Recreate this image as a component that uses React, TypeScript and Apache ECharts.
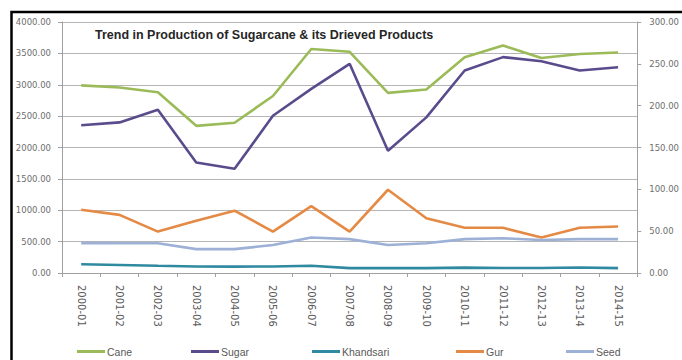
import React, { useEffect, useRef } from "react";
import * as echarts from "echarts";

const categories = [
  "2000-01", "2001-02", "2002-03", "2003-04", "2004-05", "2005-06", "2006-07", "2007-08",
  "2008-09", "2009-10", "2010-11", "2011-12", "2012-13", "2013-14", "2014-15",
];
const leftTicks = [0, 500, 1000, 1500, 2000, 2500, 3000, 3500, 4000];
const rightTicks = [0, 50, 100, 150, 200, 250, 300];

// Cane on left axis
const cane = [2990, 2955, 2880, 2345, 2395, 2820, 3570, 3525, 2870, 2925, 3440, 3625, 3425, 3490, 3515];
// Others on right axis
const sugar = [176.5, 180, 195, 132, 124.5, 188, 220, 250, 146, 186, 242, 258, 253, 242, 246];
const khandsari = [10.4, 9.6, 8.6, 7.8, 7.6, 7.8, 8.6, 5.8, 5.8, 5.8, 6.4, 6.0, 6.0, 6.6, 5.8];
const gur = [75.5, 69.5, 49.5, 62.5, 74.5, 49.5, 80, 49.5, 99.5, 65.5, 54, 54, 42.5, 54, 55.5];
const seed = [35.7, 35.5, 35.5, 28.5, 28.5, 33.5, 42.5, 40.5, 33.5, 35.5, 40.5, 41.5, 39.5, 40.5, 40.5];

const seriesNames = ["Cane", "Sugar", "Khandsari", "Gur", "Seed"];
const seriesColors = ["#9BBB59", "#5A4C8C", "#2F89A0", "#E58A45", "#9DB0D6"];
const seriesData = [cane, sugar, khandsari, gur, seed];
const legendLefts = [77, 191, 312, 456, 566];

export default function App() {
  const ref = useRef<HTMLDivElement>(null);
  useEffect(() => {
    if (!ref.current) return;
    const chart = echarts.init(ref.current, null, { renderer: "svg" });
    const font = "Liberation Sans";
    const tickFont = "DejaVu Sans";
    chart.setOption({
      animation: false,
      backgroundColor: "#ffffff",
      title: {
        text: "Trend in Production of Sugarcane & its Drieved Products",
        left: 95,
        top: 28,
        padding: 0,
        textStyle: { fontFamily: font, fontSize: 12.5, fontWeight: "bold", color: "#262626" },
      },
      graphic: [
        {
          type: "rect",
          shape: { x: 11.5, y: 12, width: 720, height: 400 },
          style: { fill: "none", stroke: "#000000", lineWidth: 2.5 },
          silent: true,
        },
      ],
      legend: seriesNames.map((n, i) => ({
        data: [n],
        left: legendLefts[i],
        top: 346,
        padding: 0,
        itemWidth: 28,
        itemHeight: 3,
        itemGap: 4,
        icon: "rect",
        textStyle: { fontFamily: font, fontSize: 10.5, color: "#595959", padding: [0, 0, 0, -3] },
      })),
      grid: { left: 62, right: 34, top: 22, bottom: 87, containLabel: false },
      xAxis: {
        type: "category",
        data: categories,
        boundaryGap: true,
        axisLine: { show: true, lineStyle: { color: "#a0a0a0", width: 1 } },
        axisTick: { show: true, alignWithLabel: false, length: 4, lineStyle: { color: "#a0a0a0" } },
        axisLabel: {
          rotate: -90,
          interval: 0,
          margin: 12,
          fontFamily: tickFont,
          fontSize: 10,
          color: "#595959",
        },
      },
      yAxis: [
        {
          type: "value",
          min: 0,
          max: 4000,
          interval: 500,
          position: "left",
          axisLine: { show: true, lineStyle: { color: "#a0a0a0", width: 1 } },
          axisTick: { show: true, inside: false, length: 4, lineStyle: { color: "#a0a0a0" } },
          splitLine: { show: true, lineStyle: { color: "#b5b5b5", width: 1.2 } },
          axisLabel: {
            margin: 11,
            fontFamily: tickFont,
            fontSize: 8.5,
            color: "#6e6e6e",
            formatter: (v: number) => (leftTicks.includes(v) ? v.toFixed(2) : ""),
          },
        },
        {
          type: "value",
          min: 0,
          max: 300,
          interval: 50,
          position: "right",
          axisLine: { show: true, lineStyle: { color: "#a0a0a0", width: 1 } },
          axisTick: { show: true, inside: false, length: 4, lineStyle: { color: "#a0a0a0" } },
          splitLine: { show: false },
          axisLabel: {
            margin: 12,
            fontFamily: tickFont,
            fontSize: 8.5,
            color: "#6e6e6e",
            formatter: (v: number) => (rightTicks.includes(v) ? v.toFixed(2) : ""),
          },
        },
      ],
      series: seriesNames.map((n, i) => ({
        name: n,
        type: "line",
        yAxisIndex: i === 0 ? 0 : 1,
        data: seriesData[i],
        symbol: "none",
        smooth: false,
        color: seriesColors[i],
        lineStyle: { width: 2.6, color: seriesColors[i] },
      })),
    });
    return () => chart.dispose();
  }, []);
  return (
    <div
      ref={ref}
      style={{ position: "fixed", left: 0, top: 0, width: 682, height: 360, overflow: "hidden" }}
    />
  );
}
